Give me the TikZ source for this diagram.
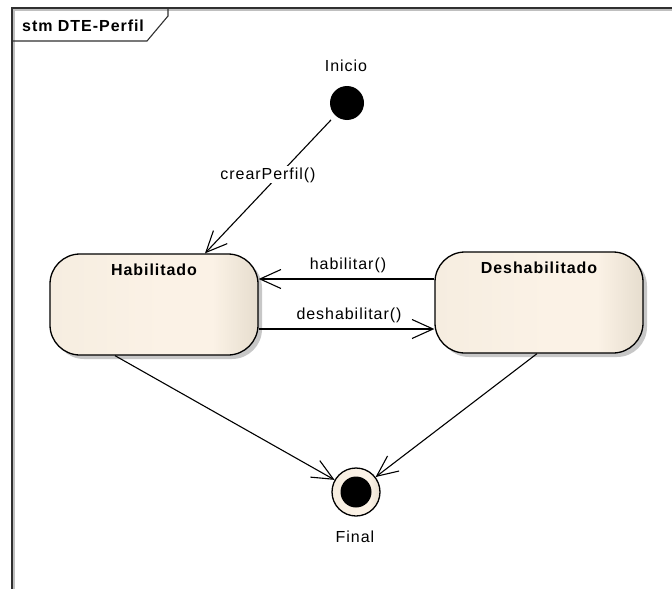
\documentclass[tikz,border=0pt]{standalone}
\usepackage{fontspec}
\setmainfont{Liberation Sans}[LetterSpace=6]
\usetikzlibrary{arrows.meta,shadows}
\definecolor{stfillL}{HTML}{F6EDE0}
\definecolor{stfillM}{HTML}{FBF2E6}
\definecolor{stfillR}{HTML}{E6DDCE}
\definecolor{framecol}{HTML}{303030}
\pgfdeclarehorizontalshading{stateshade}{100bp}{color(0bp)=(stfillL); color(25bp)=(stfillL); color(52bp)=(stfillM); color(64bp)=(stfillM); color(75bp)=(stfillR); color(100bp)=(stfillR)}
\begin{document}
\begin{tikzpicture}[x=1pt,y=-1pt,
  every node/.style={font=\fontsize{16}{19}\selectfont, inner sep=0pt},
  statebox/.style={rounded corners=30pt, draw=black, line width=1.3pt,
    shading=stateshade,
    minimum width=208pt, text height=21pt, text depth=80pt,
    font=\fontsize{16}{19}\selectfont\bfseries,
    drop shadow={shadow xshift=4pt, shadow yshift=-4pt, fill=black!40, opacity=0.55}},
  initnode/.style={circle, fill=black, minimum size=34pt},
  finalnode/.style={circle, draw=black, line width=1.3pt, shading=stateshade, minimum size=48pt},
  finaldot/.style={circle, fill=black, minimum size=31pt},
  arr/.style={line width=1.1pt, -{Straight Barb[length=21pt,width=19pt]}},
  lbl/.style={anchor=base},
  framestyle/.style={line width=1.1pt, draw=framecol}]
\useasboundingbox (0,0) rectangle (672,589);
% frame
\draw[line width=3pt, draw=black!25] (13.5,589) -- (13.5,9.5) -- (672,9.5);
\draw[framestyle] (12,589) -- (12,8) -- (672,8);
\draw[framestyle] (12,41) -- (147,41) -- (168,16) -- (168,8);
\node[anchor=base west, font=\fontsize{16}{19}\selectfont\bfseries] (title) at (22,31.5) {stm DTE-Perfil};
% states
\node[statebox] (hab) at (154,304.5) {Habilitado};
\node[statebox] (desh) at (539,302.5) {Deshabilitado};
\node[initnode] (ini) at (347,103) {};
\node[lbl] (inilbl) at (346,71) {Inicio};
\node[finalnode] (fin) at (356,492) {};
\node[finaldot] (findot) at (356,492) {};
\node[lbl] (finlbl) at (355,542) {Final};
% helper coordinates
\coordinate (yh) at (0,279);
\coordinate (yd) at (0,329);
% connectors
\draw[arr, shorten <=6pt] (ini) -- ([xshift=51pt]hab.north);
\node[lbl, fill=white, inner sep=1pt] (crear) at (268,179) {crearPerfil()};
\draw[arr] (desh.west |- yh) -- (hab.east |- yh);
\node[lbl] (habtxt) at (348,269) {habilitar()};
\draw[arr] (hab.east |- yd) -- (desh.west |- yd);
\node[lbl] (deshtxt) at (349,319) {deshabilitar()};
\draw[arr] ([xshift=-39pt]hab.south) -- (fin);
\draw[arr] ([xshift=-2pt]desh.south) -- (fin);
\end{tikzpicture}
\end{document}
